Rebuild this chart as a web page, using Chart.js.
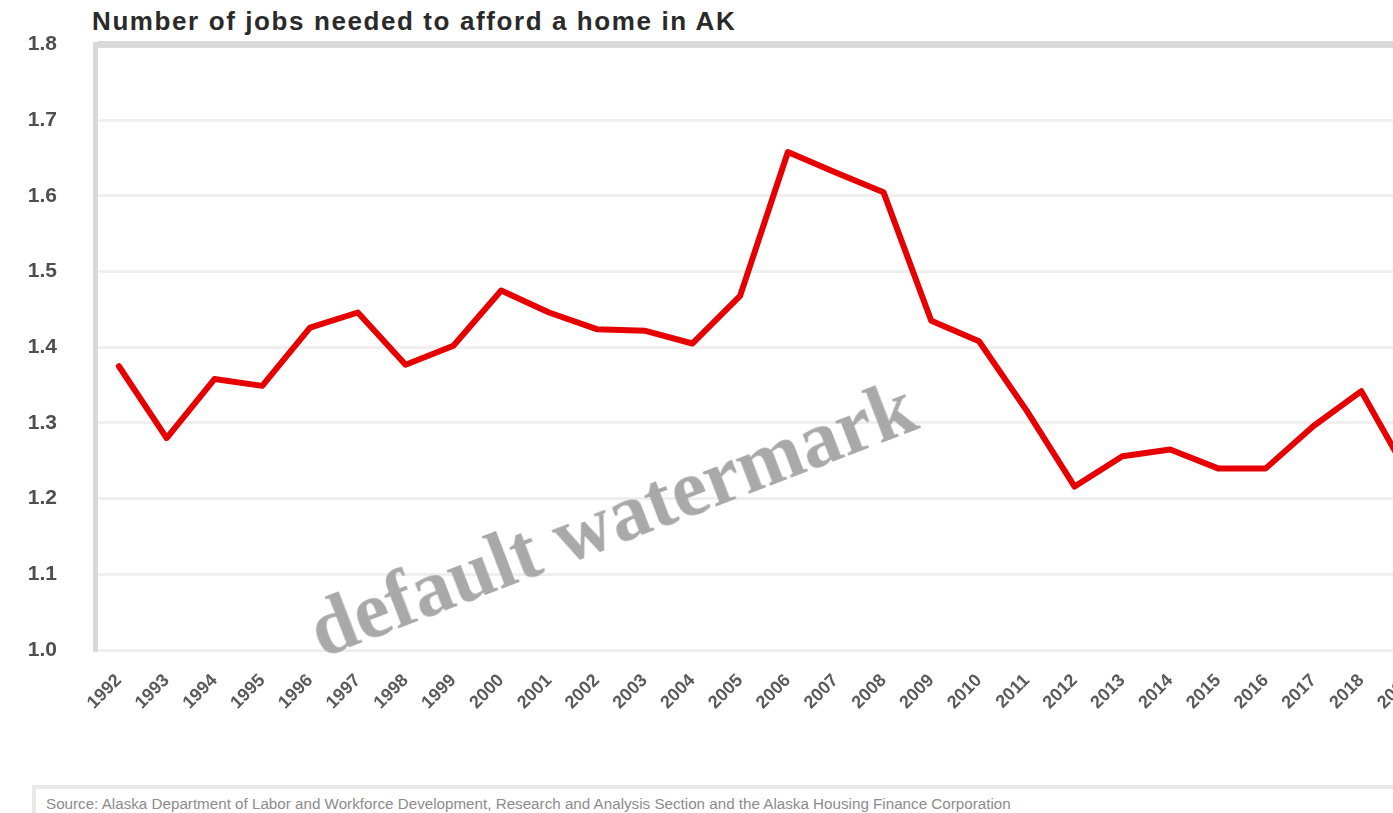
<!DOCTYPE html>
<html lang="en">
<head>
<meta charset="UTF-8">
<title>Number of jobs needed to afford a home in AK</title>
<script src="https://cdn.jsdelivr.net/npm/chart.js"></script>
<style>
    body {
        margin: 0;
        width: 1393px;
        height: 813px;
        overflow: hidden;
        background: #fff;
        font-family: "Liberation Sans", Arial, sans-serif;
        position: relative;
    }
    #title {
        position: absolute;
        left: 92px;
        top: 6px;
        font-size: 26px;
        font-weight: bold;
        letter-spacing: 1.6px;
        color: #2a2a2a;
        white-space: nowrap;
    }
    #chart-box {
        position: absolute;
        left: 0;
        top: -6px;
        width: 1440px;
        height: 766px;
    }
    #watermark {
        position: absolute;
        left: 612px;
        top: 518px;
        transform: translate(-50%, -50%) rotate(-21deg);
        font-family: "Liberation Serif", "DejaVu Serif", serif;
        font-weight: bold;
        font-size: 80px;
        color: #a9a9a9;
        white-space: nowrap;
        pointer-events: none;
    }
    #source {
        position: absolute;
        left: 32px;
        top: 785px;
        width: 1400px;
        height: 40px;
        border-top: 4px solid #e8e8e8;
        border-left: 4px solid #e8e8e8;
        box-sizing: border-box;
        padding: 6px 0 0 10px;
        font-size: 15.2px;
        color: #8c8c8c;
        white-space: nowrap;
    }
</style>
</head>
<body>
<div id="title">Number of jobs needed to afford a home in AK</div>
<div id="chart-box"><canvas id="jobsChart"></canvas></div>
<div id="watermark">default watermark</div>
<div id="source">Source: Alaska Department of Labor and Workforce Development, Research and Analysis Section and the Alaska Housing Finance Corporation</div>

<script>
    // years on the category axis
    const years = ['1992', '1993', '1994', '1995', '1996', '1997', '1998', '1999', '2000', '2001',
        '2002', '2003', '2004', '2005', '2006', '2007', '2008', '2009', '2010', '2011',
        '2012', '2013', '2014', '2015', '2016', '2017', '2018', '2019'];

    // number of jobs needed to afford a home
    const jobsNeeded = [1.375, 1.28, 1.358, 1.349, 1.426, 1.446, 1.377, 1.402, 1.475, 1.446,
        1.424, 1.422, 1.405, 1.468, 1.658, 1.631, 1.605, 1.435, 1.408, 1.316,
        1.216, 1.256, 1.265, 1.24, 1.24, 1.296, 1.342, 1.23];

    // y axis range and step
    const yMin = 1.0;
    const yMax = 1.8;
    const yStep = 0.1;

    const ctx = document.getElementById('jobsChart').getContext('2d');
    new Chart(ctx, {
        type: 'line',
        data: {
            labels: years,
            datasets: [{
                data: jobsNeeded,
                borderColor: '#e60000',
                borderWidth: 6,
                pointRadius: 0,
                tension: 0,
                borderJoinStyle: 'round',
                borderCapStyle: 'round'
            }]
        },
        options: {
            responsive: true,
            maintainAspectRatio: false,
            animation: false,
            layout: {
                padding: { top: 38, right: 7, left: 0, bottom: 0 }
            },
            plugins: {
                legend: { display: false },
                tooltip: { enabled: false }
            },
            scales: {
                x: {
                    offset: true,
                    grid: { display: false },
                    border: { display: false },
                    afterFit: function(scale) { scale.height = 110; },
                    ticks: {
                        autoSkip: false,
                        minRotation: 45,
                        maxRotation: 45,
                        padding: 12,
                        color: '#5a5a5a',
                        font: { family: '"Liberation Sans", Arial, sans-serif', size: 18, weight: 'bold' }
                    }
                },
                y: {
                    min: yMin,
                    max: yMax,
                    afterFit: function(scale) { scale.width = 95; },
                    grid: {
                        drawTicks: false,
                        color: function(c) { return c.tick && Math.abs(c.tick.value - yMax) < 1e-6 ? '#d9d9d9' : '#efefef'; },
                        lineWidth: function(c) { return c.tick && Math.abs(c.tick.value - yMax) < 1e-6 ? 7 : 3; }
                    },
                    border: { display: true, color: '#d9d9d9', width: 5 },
                    ticks: {
                        stepSize: yStep,
                        padding: 38,
                        color: '#4f4f4f',
                        font: { family: '"Liberation Sans", Arial, sans-serif', size: 21, weight: 'bold' },
                        callback: function(value) { return Number(value).toFixed(1); }
                    }
                }
            }
        }
    });
</script>
</body>
</html>
